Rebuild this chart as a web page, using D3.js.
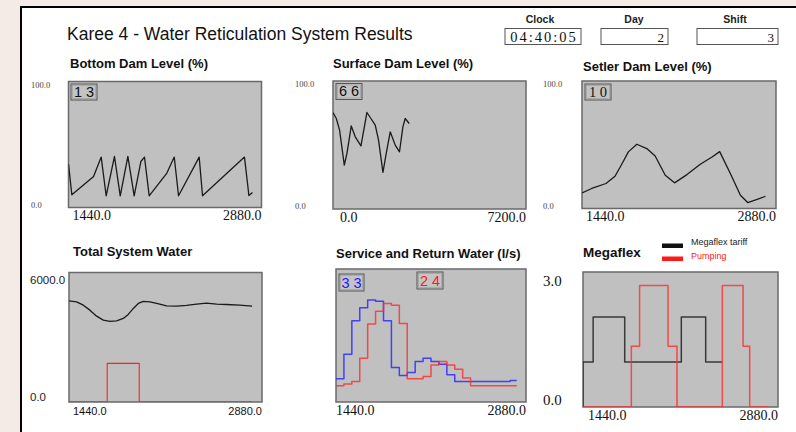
<!DOCTYPE html>
<html><head><meta charset="utf-8">
<script src="https://cdn.jsdelivr.net/npm/d3@7"></script>
<style>
html,body{margin:0;padding:0;background:#f4ebe7;}
svg{display:block;}
</style></head>
<body>
<svg id="c" width="796" height="432"></svg>
<script>
// ---------------- DATA ----------------
const titleText = "Karee 4 - Water Reticulation System Results";
const clockLabels = ["Clock", "Day", "Shift"];
const clockValues = ["04:40:05", "2", "3"];

const bottomDamT = [1440,1465,1627,1684,1721,1783,1826,1883,1930,1980,2007,2042,2174,2229,2261,2415,2440,2753,2786,2813];
const bottomDamV = [34.4,10.1,24.6,40,9.3,40.5,9.3,40.5,9.3,36.5,40,9.3,27.3,40,9.3,40,9.3,40,9.5,11.9];
const bottomDamNow = "1 3";

const surfaceDamT = [0,123,246,421,521,681,831,1043,1266,1415,1576,1699,1863,1986,2135,2321,2481,2607,2693,2842];
const surfaceDamV = [75.4,70.7,61.6,34.3,43.4,64.9,56.4,49.3,75.4,70.7,65.5,53.8,28.6,43.4,60.3,49.9,44.7,64.2,70.7,66.8];
const surfaceDamNow = "6 6";

const setlerDamT = [1440,1512,1618,1685,1735,1784,1847,1921,1983,2058,2127,2219,2318,2405,2462,2541,2616,2670,2740,2802];
const setlerDamV = [12.2,15.7,19.6,25.3,34.7,44.4,50.4,47.0,41.2,26.1,20.1,26.6,34.7,40.4,44.6,27.4,10.4,4.7,7.1,9.6];
const setlerDamNow = "1 0";

const totalWaterT = [1440,1497,1547,1596,1646,1696,1746,1795,1845,1882,1920,1957,1994,2044,2094,2168,2243,2317,2392,2466,2541,2615,2714,2806];
const totalWaterV = [4686,4640,4487,4256,3978,3793,3732,3762,3873,4058,4335,4566,4659,4640,4566,4455,4441,4473,4533,4579,4533,4518,4486,4440];
const totalPumpT = [1440,1725,1964,2806];
const totalPumpV = [0,1790,0,0];

const hourT = [1440,1500,1560,1620,1680,1740,1800,1860,1920,1980,2040,2100,2160,2220,2280,2340,2400,2460,2520,2580,2640,2700,2760,2810];
const serviceV = [17.4,35.9,61.1,70.8,76.6,75.8,61.1,25.9,19.9,22.2,30.4,32.9,30.4,28.4,20.4,15.4,15.4,15.4,15.4,15.4,15.4,15.4,16.2,16.2];
const returnV  = [12.2,13.5,15.4,32.9,58.6,68.3,74.1,72.8,59.1,17.4,17.4,19.2,27.9,30.4,27.9,24.7,18.0,12.2,12.2,12.2,12.2,12.2,12.2,12.2];
const serviceNow = "3 3";
const returnNow = "2 4";

const tariffT = [1440,1440,1515,1748,2166,2346,2469];
const tariffV = [0,1,2,1,2,1,1];
const pumpingT = [1440,1797,1858,2068,2134,2469,2622,2671,2810];
const pumpingV = [0,1.35,2.7,1.35,0,2.7,1.35,0,0];
const legendLabels = ["Megaflex tariff", "Pumping"];

const xTicksDay = [1440, 2880];
const xTicksSurface = [0, 7200];
// ---------------- DRAW ----------------
const svg = d3.select("#c");
const SANS = "'Liberation Sans', Arial, sans-serif";
const SERIF = "'Liberation Serif', 'Times New Roman', serif";
const fmt = d3.format(".1f");

svg.append("rect").attr("x",21).attr("y",7).attr("width",775).attr("height",425).attr("fill","#fff");
svg.append("line").attr("x1",20).attr("x2",796).attr("y1",7).attr("y2",7).attr("stroke","#000").attr("stroke-width",2);
svg.append("line").attr("x1",21).attr("x2",21).attr("y1",6).attr("y2",432).attr("stroke","#000").attr("stroke-width",2);

svg.append("text").attr("x",67).attr("y",40).attr("font-family",SANS).attr("font-size",17.5).attr("fill","#111").text(titleText);

// clock / day / shift
const clk = [{cx:540, x:505, w:76}, {cx:634, x:601, w:67}, {cx:735, x:697, w:81}];
clk.forEach((c,i)=>{
  svg.append("text").attr("x",c.cx).attr("y",23).attr("text-anchor","middle").attr("font-family",SANS)
    .attr("font-weight","bold").attr("font-size",10.5).attr("fill","#222").text(clockLabels[i]);
  svg.append("rect").attr("x",c.x).attr("y",28.5).attr("width",c.w).attr("height",16).attr("fill","#fff")
    .attr("stroke","#555").attr("stroke-width",1);
  if(i===0){
    svg.append("text").attr("x",c.x+c.w/2+1).attr("y",41.5).attr("text-anchor","middle").attr("font-family",SERIF)
      .attr("font-size",14.5).attr("letter-spacing",2).attr("fill","#111").text(clockValues[i]);
  } else {
    svg.append("text").attr("x",c.x+c.w-4).attr("y",41.5).attr("text-anchor","end").attr("font-family",SERIF)
      .attr("font-size",13).attr("fill","#111").text(clockValues[i]);
  }
});

function panel(o){
  const g = svg.append("g");
  const x = d3.scaleLinear().domain(o.xDomain).range([o.x0,o.x1]);
  const y = d3.scaleLinear().domain(o.yDomain).range([o.y1,o.y0]);
  g.append("text").attr("x",o.tx).attr("y",o.ty).attr("font-family",SANS).attr("font-weight","bold")
    .attr("font-size",o.tSize||13).attr("fill","#111").text(o.title);
  g.append("rect").attr("x",o.x0).attr("y",o.y0).attr("width",o.x1-o.x0).attr("height",o.y1-o.y0)
    .attr("fill","#c0c0c0").attr("stroke","#6a6a6a").attr("stroke-width",1.5);
  const yl = o.yLab;
  if(yl){
    g.append("text").attr("x",yl.x).attr("y",y(o.yDomain[1])+yl.dTop).attr("font-family",yl.font).attr("font-size",yl.size)
      .attr("fill",yl.color).text(fmt(o.yDomain[1]));
    g.append("text").attr("x",yl.x).attr("y",y(o.yDomain[0])+yl.dBot).attr("font-family",yl.font).attr("font-size",yl.size)
      .attr("fill",yl.color).text(fmt(o.yDomain[0]));
  }
  const xl = o.xLab;
  o.xTicks.forEach((t,i)=>{
    g.append("text").attr("x",x(t)+(i===0?xl.dl:0)).attr("y",o.y1+xl.dy).attr("text-anchor",i===0?"start":"end")
      .attr("font-family",xl.font).attr("font-size",xl.size).attr("fill","#111").text(fmt(t));
  });
  const clipId = "clip"+Math.round(o.x0)+"_"+Math.round(o.y0);
  svg.append("clipPath").attr("id",clipId).append("rect").attr("x",o.x0).attr("y",o.y0)
    .attr("width",o.x1-o.x0).attr("height",o.y1-o.y0);
  const lg = g.append("g").attr("clip-path","url(#"+clipId+")");
  o.series.forEach(s=>{
    const pts = s.t.map((t,i)=>[t,s.v[i]]);
    const line = d3.line().x(d=>x(d[0])).y(d=>y(d[1])).curve(s.step?d3.curveStepAfter:d3.curveLinear);
    lg.append("path").attr("d",line(pts)).attr("fill","none").attr("stroke",s.color)
      .attr("stroke-width",s.w||1.2).attr("stroke-opacity",s.op||1).attr("stroke-linejoin","round");
  });
  (o.boxes||[]).forEach(b=>{
    g.append("rect").attr("x",b.x).attr("y",b.y).attr("width",b.w).attr("height",b.h)
      .attr("fill","#c4c4c4").attr("stroke","#555").attr("stroke-width",1);
    g.append("rect").attr("x",b.x+1.5).attr("y",b.y+1.5).attr("width",b.w-3).attr("height",b.h-3)
      .attr("fill","none").attr("stroke","#9a9a9a").attr("stroke-width",0.6);
    g.append("text").attr("x",b.x+b.w/2).attr("y",b.y+b.h-3.5).attr("text-anchor","middle")
      .attr("font-family",b.font||SANS).attr("font-size",b.size||14.5).attr("fill",b.color||"#111").text(b.text);
  });
  return {x,y,g};
}

const smallY = {x:31, dTop:6, dBot:0, font:SERIF, size:8.5, color:"#444"};
const serifX = {dy:12.5, dl:4, font:SERIF, size:14};

panel({title:"Bottom Dam Level (%)", tx:70, ty:68, x0:68.5, x1:261.5, y0:81.5, y1:207.5,
  xDomain:[1440,2880], yDomain:[0,100], xTicks:xTicksDay, yLab:smallY, xLab:serifX,
  series:[{t:bottomDamT, v:bottomDamV, color:"#1a1a1a", w:1.3}],
  boxes:[{x:71, y:84, w:26, h:16, text:bottomDamNow}]});

panel({title:"Surface Dam Level (%)", tx:333, ty:68, x0:333, x1:526, y0:81, y1:209,
  xDomain:[0,7200], yDomain:[0,100], xTicks:xTicksSurface, yLab:{...smallY, x:295}, xLab:{...serifX, dl:7},
  series:[{t:surfaceDamT, v:surfaceDamV, color:"#1a1a1a", w:1.3}],
  boxes:[{x:336, y:83.5, w:26, h:16, text:surfaceDamNow}]});

panel({title:"Setler Dam Level (%)", tx:583, ty:71, x0:582, x1:776, y0:81, y1:208.5,
  xDomain:[1440,2880], yDomain:[0,100], xTicks:xTicksDay, yLab:{...smallY, x:543}, xLab:serifX,
  series:[{t:setlerDamT, v:setlerDamV, color:"#1a1a1a", w:1.3}],
  boxes:[{x:585, y:84, w:26, h:16, text:setlerDamNow, font:SERIF}]});

panel({title:"Total System Water", tx:73, ty:256, x0:69, x1:262, y0:272.5, y1:402,
  xDomain:[1440,2880], yDomain:[0,6000], xTicks:xTicksDay,
  yLab:{x:30, dTop:11, dBot:-1, font:SANS, size:11.5, color:"#222"}, xLab:{dy:12.5, dl:4, font:SANS, size:11},
  series:[{t:totalWaterT, v:totalWaterV, color:"#1a1a1a", w:1.3},
          {t:totalPumpT, v:totalPumpV, color:"#ff2020", w:1.1, step:true}]});

panel({title:"Service and Return Water (l/s)", tx:336, ty:258, x0:336, x1:526, y0:269, y1:402,
  xDomain:[1440,2880], yDomain:[0,100], xTicks:xTicksDay,
  yLab:null, xLab:{dy:13, dl:0, font:SERIF, size:14},
  series:[{t:hourT, v:serviceV, color:"#2a2aff", w:1.5, op:0.85, step:true},
          {t:hourT, v:returnV, color:"#ff2a2a", w:1.5, op:0.8, step:true}],
  boxes:[{x:339, y:274, w:25, h:17, text:serviceNow, color:"#1a1aff"},
         {x:417, y:272, w:26, h:17, text:returnNow, color:"#ff1a1a"}]});

panel({title:"Megaflex", tx:583, ty:257, tSize:13.5, x0:583, x1:778, y0:272, y1:407,
  xDomain:[1440,2880], yDomain:[0,3], xTicks:xTicksDay,
  yLab:{x:543, dTop:14, dBot:-2, font:SERIF, size:15, color:"#111"}, xLab:{dy:13, dl:5, font:SERIF, size:14},
  series:[{t:tariffT, v:tariffV, color:"#2a2a2a", w:1.5, op:0.9, step:true},
          {t:pumpingT, v:pumpingV, color:"#ff2a2a", w:1.5, op:0.8, step:true}]});

const legColors = ["#111", "#ff1a1a"];
legendLabels.forEach((l,i)=>{
  svg.append("rect").attr("x",662).attr("y",243.5+i*13).attr("width",21).attr("height",4.5).attr("fill",legColors[i]);
  svg.append("text").attr("x",691).attr("y",245+i*14).attr("font-family",SANS).attr("font-size",9)
    .attr("fill",i===0?"#222":"#ff2020").text(l);
});
</script>
</body></html>
